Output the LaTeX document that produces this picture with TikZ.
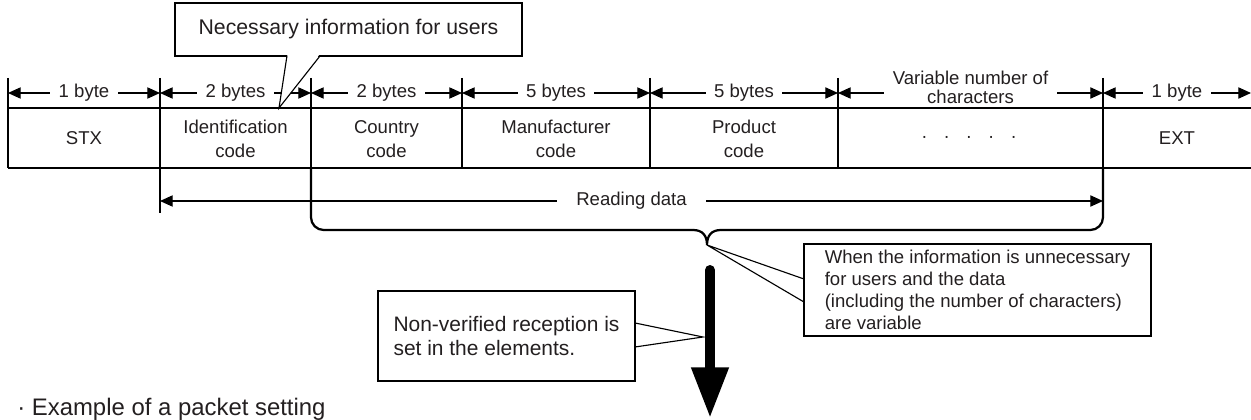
\documentclass[tikz,border=0pt]{standalone}
\usepackage{fontspec}
\setmainfont{Liberation Sans}
\usepackage{tikz}
\usetikzlibrary{arrows.meta,positioning,calc}
\definecolor{inkgrey}{RGB}{35,31,32}
\tikzset{
  base/.style={font=\fontsize{13.2}{15.6}\selectfont, align=center, inner sep=0pt, text=inkgrey},
  cell/.style={base, font=\fontsize{13.2}{16.8}\selectfont},
  thinline/.style={line width=0.8pt, draw=black},
  dashbox/.style={line width=1.6pt, draw=black, dash pattern=on 4pt off 2.4pt},
  bracepath/.style={line width=1.6pt, draw=black},
  dimarr/.style={thinline, {Triangle[length=9pt,width=8pt]}-{Triangle[length=9pt,width=8pt]}},
  dimlbl/.style={base, fill=white, inner xsep=6pt, inner ysep=1pt},
  callbox/.style={base, rectangle, draw=black, fill=white, line width=0.8pt, outer sep=0pt},
  callptr/.style={line width=0.8pt, draw=black},
  bigarr/.style={line width=7.1pt, line cap=round, -{Triangle[length=36pt,width=25pt]}},
}

\begin{document}
\begin{tikzpicture}[x=0.025cm,y=-0.025cm]
  \useasboundingbox (0,0) rectangle (1251,420);
  % ticks of the dimension row
  \foreach \n/\px in {0/8,1/160,2/311,3/462,4/650,5/838,6/1103,7/1251} {
    \coordinate (d\n) at (\px,93);
  }
  % packet row
  \draw[thinline] (8,108) -- (1251,108);
  \draw[thinline] (8,168) -- (1251,168);
  \foreach \px in {8,311,462,650,838,1103} \draw[thinline] (\px,78) -- (\px,168);
  \draw[thinline] (160,78) -- (160,213);
  \draw[dashbox] (311,108) rectangle (1103,168);
  \node[cell] (stx) at (84,138) {STX};
  \node[cell] (idcode) at (235.5,139) {Identification\\code};
  \node[cell] (country) at (386.5,139) {Country\\code};
  \node[cell] (maker) at (556,139) {Manufacturer\\code};
  \node[cell] (product) at (744,139) {Product\\code};
  \node[cell] (dots) at (969,139) {·\hspace{0.87em}·\hspace{0.87em}·\hspace{0.87em}·\hspace{0.87em}·};
  \node[cell] (ext) at (1177,138) {EXT};
  % sizes
  \draw[dimarr] (d0) -- node[dimlbl] (w1) {1 byte} (d1);
  \draw[dimarr] (d1) -- node[dimlbl] (w2) {2 bytes} (d2);
  \draw[dimarr] (d2) -- node[dimlbl] (w3) {2 bytes} (d3);
  \draw[dimarr] (d3) -- node[dimlbl] (w4) {5 bytes} (d4);
  \draw[dimarr] (d4) -- node[dimlbl] (w5) {5 bytes} (d5);
  \draw[dimarr] (d5) -- node[dimlbl,yshift=4pt,font=\fontsize{13.2}{13.5}\selectfont] (w6) {Variable number of\\characters} (d6);
  \draw[dimarr] (d6) -- node[dimlbl] (w7) {1 byte} (d7);
  % reading data and brace
  \coordinate (rd0) at (160,201);
  \coordinate (rd1) at (1103,201);
  \draw[dimarr] (rd0) -- node[dimlbl,inner xsep=14pt] (readlbl) {Reading data} (rd1);
  \coordinate (bracetip) at (707,245);
  \draw[bracepath,rounded corners=9pt] (311,168) -- (311,230) -- (693,230);
  \draw[bracepath] (693,230) .. controls (703,230) and (707,236) .. (bracetip)
    .. controls (707,236) and (711,230) .. (721,230);
  \draw[bracepath,rounded corners=9pt] (721,230) -- (1103,230) -- (1103,168);
  % flow arrow
  \coordinate (flowtop) at (710,270);
  \coordinate (flowend) at (710,418);
  \coordinate (shafttip) at (703,337);
  \draw[bigarr] (flowtop) -- (flowend);
  % callouts
  \node[callbox,font=\fontsize{15.1}{17}\selectfont,minimum width=8.675cm,minimum height=1.325cm] (needbox) at (348.5,29.5) {Necessary information for users};
  \coordinate (needtip) at (279,108);
  \fill[white] ($(needbox.south west)+(112.5,-1.5)$) -- (needtip) -- ($(needbox.south west)+(144.5,-1.5)$) -- cycle;
  \draw[callptr] ($(needbox.south west)+(112,0)$) -- (needtip) -- ($(needbox.south west)+(145,0)$);
  \node[callbox,align=left,minimum width=8.675cm,minimum height=2.3cm] (varbox) at (977.5,290)
    {When the information is unnecessary\\for users and the data\\(including the number of characters)\\are variable};
  \fill[white] ($(varbox.north west)+(-1.5,35.5)$) -- (bracetip) -- ($(varbox.north west)+(-1.5,57.5)$) -- cycle;
  \draw[callptr] ($(varbox.north west)+(0,35)$) -- (bracetip) -- ($(varbox.north west)+(0,58)$);
  \node[callbox,font=\fontsize{14.9}{17}\selectfont,align=left,minimum width=6.425cm,minimum height=2.25cm] (nvbox) at (506.5,336)
    {Non-verified reception is\\set in the elements.};
  \fill[white] ($(nvbox.north east)+(1.5,32.5)$) -- (shafttip) -- ($(nvbox.north east)+(1.5,55.5)$) -- cycle;
  \draw[callptr] ($(nvbox.north east)+(0,32)$) -- (shafttip) -- ($(nvbox.north east)+(0,56)$);
  % caption
  \node[base,font=\fontsize{17}{19}\selectfont,anchor=west] (caption) at (17,409) {· Example of a packet setting};
\end{tikzpicture}
\end{document}
